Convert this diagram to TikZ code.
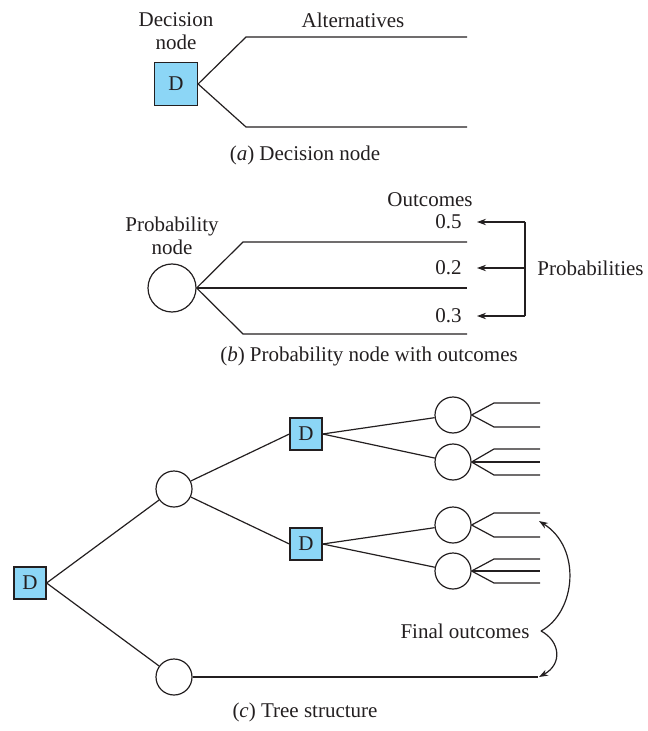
\documentclass[tikz,border=0pt]{standalone}
\usepackage{fontspec}
\setmainfont{Liberation Serif}
\usepackage{tikz}
\usetikzlibrary{arrows.meta,positioning}
\definecolor{dfill}{RGB}{140,214,246}
\definecolor{ink}{RGB}{35,31,32}

\begin{document}
\begin{tikzpicture}[
    x=0.5pt, y=-0.5pt,
    font=\fontsize{10.5}{11.5}\selectfont, text=ink,
    dbox/.style={rectangle, draw=ink, fill=dfill, line width=0.6pt, inner sep=0pt},
    bigd/.style={dbox, minimum size=21.5pt},
    smalld/.style={dbox, minimum size=16pt},
    chance/.style={circle, draw=ink, line width=0.6pt, inner sep=0pt, minimum size=18pt},
    branch/.style={draw=ink, line width=0.6pt},
    arrow/.style={-{Stealth[length=4.5pt,width=3.2pt]}, draw=ink, fill=ink, line width=0.6pt},
    lbl/.style={align=center, inner sep=0pt}
]
\useasboundingbox (0,0) rectangle (647,731);

% (a) Decision node
\node[lbl] (declbl) at (176,31) {Decision\\node};
\node[bigd] (dA) at (176,84) {D};
\node[lbl] (altlbl) at (353,20) {Alternatives};
\coordinate (a1) at (246,37);  \coordinate (a1e) at (467,37);
\coordinate (a2) at (246,127); \coordinate (a2e) at (467,127);
\draw[branch] (dA.east) -- (a1) -- (a1e);
\draw[branch] (dA.east) -- (a2) -- (a2e);
\node[lbl] (capa) at (305,155) {(\textit{a}) Decision node};

% (b) Probability node with outcomes
\node[lbl] (outlbl) at (430,200) {Outcomes};
\node[lbl] (problbl) at (172,236) {Probability\\node};
\node[chance, minimum size=24pt] (pC) at (172,288) {};
\coordinate (b1) at (243,242); \coordinate (b1e) at (467,242);
\coordinate (b2e) at (467,288);
\coordinate (b3) at (243,334); \coordinate (b3e) at (467,334);
\draw[branch] (pC.east) -- (b1) -- (b1e);
\draw[branch] (pC.east) -- (b2e);
\draw[branch] (pC.east) -- (b3) -- (b3e);
\node[lbl, anchor=east] (p5) at (462,222) {0.5};
\node[lbl, anchor=east] (p2) at (462,268) {0.2};
\node[lbl, anchor=east] (p3) at (462,316) {0.3};
\coordinate (k5) at (525,222);
\coordinate (k2) at (525,268);
\coordinate (k3) at (525,316);
\draw[branch] (k5) -- (k3);
\draw[arrow] (k5) -- ([xshift=7.5pt]p5.east);
\draw[arrow] (k2) -- ([xshift=7.5pt]p2.east);
\draw[arrow] (k3) -- ([xshift=7.5pt]p3.east);
\node[lbl, anchor=west] (problt) at (537,268) {Probabilities};
\node[lbl] (capb) at (369,356) {(\textit{b}) Probability node with outcomes};

% (c) Tree structure
\node[smalld] (d0) at (30,583) {D};
\node[chance] (c1) at (174,489) {};
\node[chance] (c2) at (174,677) {};
\node[smalld] (d1) at (306,434) {D};
\node[smalld] (d2) at (306,544) {D};
\node[chance] (e1) at (453,415) {};
\node[chance] (e2) at (453,462) {};
\node[chance] (e3) at (453,525) {};
\node[chance] (e4) at (453,571) {};
\draw[branch] (d0.east) -- (c1);
\draw[branch] (d0.east) -- (c2);
\draw[branch] (c1) -- (d1.west);
\draw[branch] (c1) -- (d2.west);
\draw[branch] (d1.east) -- (e1);
\draw[branch] (d1.east) -- (e2);
\draw[branch] (d2.east) -- (e3);
\draw[branch] (d2.east) -- (e4);

% final outcome branches
\coordinate (f11) at (494,403); \coordinate (f11e) at (540,403);
\coordinate (f12) at (494,427); \coordinate (f12e) at (540,427);
\coordinate (f21) at (494,449); \coordinate (f21e) at (540,449);
\coordinate (f22e) at (540,462);
\coordinate (f23) at (494,475); \coordinate (f23e) at (540,475);
\coordinate (f31) at (494,513); \coordinate (f31e) at (540,513);
\coordinate (f32) at (494,537); \coordinate (f32e) at (540,537);
\coordinate (f41) at (494,559); \coordinate (f41e) at (540,559);
\coordinate (f42e) at (540,571);
\coordinate (f43) at (494,583); \coordinate (f43e) at (540,583);
\coordinate (f5e) at (538,677);
\draw[branch] (e1.east) -- (f11) -- (f11e);
\draw[branch] (e1.east) -- (f12) -- (f12e);
\draw[branch] (e2.east) -- (f21) -- (f21e);
\draw[branch] (e2.east) -- (f22e);
\draw[branch] (e2.east) -- (f23) -- (f23e);
\draw[branch] (e3.east) -- (f31) -- (f31e);
\draw[branch] (e3.east) -- (f32) -- (f32e);
\draw[branch] (e4.east) -- (f41) -- (f41e);
\draw[branch] (e4.east) -- (f42e);
\draw[branch] (e4.east) -- (f43) -- (f43e);
\draw[branch] (c2) -- (f5e);

% brace arrows
\node[lbl] (finlbl) at (465,631) {Final outcomes};
\coordinate (cusp) at (541,631);
\coordinate (ftop) at (539,521);
\coordinate (fbot) at (539,677);
\draw[arrow, fill=none] (cusp) .. controls (576,612) and (582,548) .. (ftop);
\draw[arrow, fill=none] (cusp) .. controls (560,641) and (563,664) .. (fbot);
\node[lbl] (capc) at (305,712) {(\textit{c}) Tree structure};

\end{tikzpicture}
\end{document}
